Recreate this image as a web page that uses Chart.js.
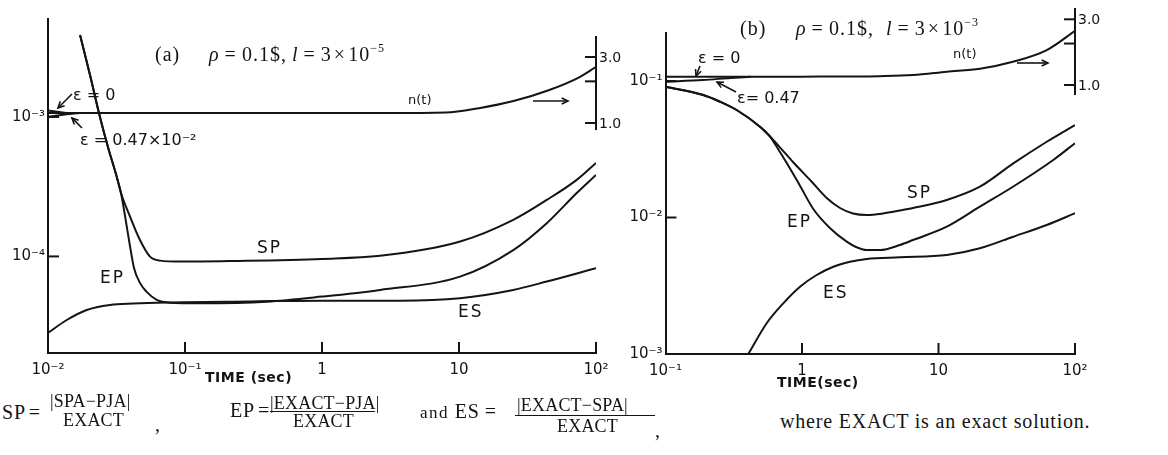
<!DOCTYPE html>
<html>
<head>
<meta charset="utf-8">
<script src="https://cdn.jsdelivr.net/npm/chart.js@4.4.1/dist/chart.umd.min.js"></script>
<style>
  html, body { margin: 0; padding: 0; background: #fff; }
  body { width: 1168px; height: 455px; position: relative; overflow: hidden;
         font-family: "Liberation Serif", "DejaVu Serif", serif; color: #141414; }
  canvas { position: absolute; top: 0; }
  #chartA { left: 0; }
  #chartB { left: 618px; }
  .t { position: absolute; white-space: nowrap; }
  .ttl { font-size: 20px; line-height: 20px; letter-spacing: 1px; }
  .ttl sup { font-size: 12px; vertical-align: 9px; line-height: 0; }
  .eq { margin: 0 5px; }
  .ceq { margin-left: 3px; }
  .mul { margin: 0 2px; }
  .axt { font-family: "DejaVu Sans", sans-serif; font-weight: bold; font-size: 14px; line-height: 14px; letter-spacing: 0.5px; }
  .cap { font-size: 20px; line-height: 20px; letter-spacing: 0.8px; }
  .fr { font-size: 18px; line-height: 18px; letter-spacing: 0.2px; }
  .bar { position: absolute; border-top: 1.5px solid #141414; height: 0; }
</style>
</head>
<body>
<canvas id="chartA" width="628" height="392"></canvas>
<canvas id="chartB" width="550" height="392"></canvas>

<!-- panel titles -->
<div class="t ttl" style="left:155px;top:44px">(a)</div>
<div class="t ttl" style="left:209px;top:44px"><i>ρ</i><span class="eq">=</span>0.1$,</div>
<div class="t ttl" style="left:292px;top:44px"><i>l</i><span class="eq">=</span>3<span class="mul">×</span>10<sup>−5</sup></div>

<div class="t ttl" style="left:740px;top:18px">(b)</div>
<div class="t ttl" style="left:796px;top:18px"><i>ρ</i><span class="eq">=</span>0.1$,</div>
<div class="t ttl" style="left:886px;top:18px"><i>l</i><span class="eq">=</span>3<span class="mul">×</span>10<sup>−3</sup></div>

<!-- axis titles -->
<div class="t axt" style="left:205px;top:370px">TIME (sec)</div>
<div class="t axt" style="left:777px;top:375px">TIME(sec)</div>

<!-- definitions -->
<div class="t cap" style="left:2px;top:402px">SP<span class="ceq">=</span></div>
<div class="t fr"  style="left:50px;top:392px">|SPA−PJA|</div>
<div class="t fr"  style="left:63px;top:411px">EXACT</div>
<div class="t cap" style="left:155px;top:414px">,</div>

<div class="t cap" style="left:230px;top:400px">EP<span class="ceq">=</span></div>
<div class="t fr"  style="left:270px;top:394px">|EXACT−PJA|</div>
<div class="bar"   style="left:270px;top:411px;width:105px"></div>
<div class="t fr"  style="left:293px;top:412px">EXACT</div>

<div class="t cap" style="left:420px;top:401px"><span style="font-size:17px;letter-spacing:1.5px">and</span> ES<span class="eq">=</span></div>
<div class="t fr"  style="left:517px;top:396px">|EXACT−SPA|</div>
<div class="bar"   style="left:515px;top:415px;width:140px"></div>
<div class="t fr"  style="left:557px;top:417px">EXACT</div>
<div class="t cap" style="left:655px;top:420px">,</div>

<div class="t cap" style="left:780px;top:411px">where EXACT is an exact solution.</div>

<script>
// ---------- panel (a): l = 3e-5 ----------
const aTimeTicks = [0.01, 0.1, 1, 10, 100];
const aTimeTickLabels = ['10⁻²', '10⁻¹', '1', '10', '10²'];
const aErrTicks = [1e-3, 1e-4];
const aErrTickLabels = ['10⁻³', '10⁻⁴'];

const aTimeN = [0.01, 0.03, 0.1, 0.3, 1, 3, 8, 14, 25, 44, 76, 100];
const aN     = [1.18, 1.18, 1.18, 1.18, 1.18, 1.18, 1.19, 1.28, 1.44, 1.71, 2.15, 2.55];
const aTimeNeps0 = [0.01, 0.012, 0.0138];
const aNeps0     = [1.23, 1.20, 1.18];
const aTimeNeps1 = [0.01, 0.0125, 0.015, 0.0171];
const aNeps1     = [1.105, 1.14, 1.165, 1.18];

const aTimeSP = [0.01714, 0.02026, 0.02397, 0.02755, 0.03174, 0.0341, 0.0397, 0.0469, 0.0555, 0.0657, 0.0919, 0.225, 1, 2.65, 10.2, 24.9, 43.7, 72.3, 100];
const aSP     = [3.87e-3, 2.0e-3, 9.95e-4, 5.96e-4, 3.73e-4, 2.85e-4, 1.93e-4, 1.31e-4, 9.97e-5, 9.33e-5, 9.18e-5, 9.28e-5, 9.6e-5, 1.01e-4, 1.28e-4, 1.83e-4, 2.54e-4, 3.54e-4, 4.68e-4];

const aTimeEP = [0.01714, 0.02026, 0.02397, 0.02755, 0.03174, 0.0341, 0.0371, 0.0397, 0.04243, 0.0469, 0.0525, 0.0622, 0.0777, 0.1287, 0.395, 1, 2.65, 10.17, 24.9, 43.7, 72.3, 100];
const aEP     = [3.87e-3, 2.0e-3, 9.95e-4, 5.96e-4, 3.73e-4, 2.85e-4, 1.77e-4, 1.18e-4, 8.27e-5, 6.46e-5, 5.57e-5, 4.88e-5, 4.66e-5, 4.62e-5, 4.74e-5, 5.15e-5, 5.75e-5, 7.16e-5, 1.11e-4, 1.73e-4, 2.85e-4, 3.84e-4];

const aTimeES = [0.01, 0.0137, 0.01916, 0.02836, 0.04195, 0.0735, 0.2985, 1, 3.71, 10.17, 24.9, 43.7, 100];
const aES     = [2.83e-5, 3.5e-5, 4.13e-5, 4.49e-5, 4.6e-5, 4.68e-5, 4.76e-5, 4.82e-5, 4.82e-5, 5.02e-5, 5.75e-5, 6.6e-5, 8.23e-5];

// ---------- panel (b): l = 3e-3 ----------
const bTimeTicks = [0.1, 1, 10, 100];
const bTimeTickLabels = ['10⁻¹', '1', '10', '10²'];
const bErrTicks = [1e-1, 1e-2, 1e-3];
const bErrTickLabels = ['10⁻¹', '10⁻²', '10⁻³'];

const bTimeN = [0.1, 0.3, 1, 3.7, 6.5, 11.5, 20.1, 35.1, 62.1, 100];
const bN     = [1.148, 1.148, 1.15, 1.16, 1.18, 1.248, 1.313, 1.475, 1.793, 2.475];
const bTimeNeps1 = [0.1, 0.188, 0.3, 0.42];
const bNeps1     = [1.057, 1.087, 1.125, 1.148];

const bTimeSP = [0.1, 0.189, 0.251, 0.332, 0.492, 0.583, 0.702, 0.859, 1.174, 1.517, 1.899, 2.364, 2.98, 3.92, 5.22, 6.51, 11.5, 20.1, 35.3, 62.1, 100];
const bSP     = [0.0908, 0.0789, 0.0705, 0.0613, 0.0463, 0.0392, 0.032, 0.0255, 0.01835, 0.0139, 0.01174, 0.0107, 0.01043, 0.0107, 0.01125, 0.01174, 0.01343, 0.0168, 0.0249, 0.0359, 0.0476];

const bTimeEP = [0.1, 0.189, 0.251, 0.332, 0.492, 0.583, 0.678, 0.773, 0.951, 1.21, 1.60, 2.126, 2.486, 2.98, 3.73, 5.22, 6.51, 11.5, 20.1, 35.1, 69.3, 100];
const bEP     = [0.0908, 0.0789, 0.0705, 0.0613, 0.0463, 0.0392, 0.031, 0.0251, 0.0176, 0.01154, 0.00838, 0.00665, 0.00608, 0.00578, 0.00578, 0.00629, 0.00684, 0.00856, 0.012, 0.0168, 0.0264, 0.035];

const bTimeES = [0.404, 0.551, 0.729, 0.967, 1.281, 1.696, 2.247, 2.98, 5.22, 11.5, 20.1, 35.3, 62.1, 100];
const bES     = [0.001, 0.00168, 0.00235, 0.00311, 0.00379, 0.00436, 0.00474, 0.00497, 0.00511, 0.00531, 0.00595, 0.00723, 0.00881, 0.01074];

// n(t) side scale
const nTicks = [1, 2, 3];
const nTickLabels = ['1.0', '', '3.0'];

const ink = '#141414';

function pts(xs, ys) { return xs.map((x, i) => ({ x: x, y: ys[i] })); }

function curve(xs, ys, axis, noClip) {
  const ds = {
    data: pts(xs, ys), yAxisID: axis, borderColor: ink, borderWidth: 2,
    pointRadius: 0, fill: false, cubicInterpolationMode: 'monotone'
  };
  if (noClip) ds.clip = false;
  return ds;
}

function labelMap(values, labels) {
  const m = new Map();
  values.forEach((v, i) => m.set(v, labels[i]));
  return m;
}

// axis ticks drawn inward, the short n(t) scale, and the curve labels
function panelMarks(o) {
  return {
    id: 'panelMarks',
    afterDraw(chart) {
      const { ctx, chartArea: ca, scales } = chart;
      const x = scales.x, y = scales.y, yn = scales.yn;
      const seg = (x1, y1, x2, y2) => { ctx.beginPath(); ctx.moveTo(x1, y1); ctx.lineTo(x2, y2); ctx.stroke(); };
      ctx.save();
      ctx.strokeStyle = ink; ctx.fillStyle = ink; ctx.lineWidth = 2;

      o.xTicks.forEach(v => {
        const px = x.getPixelForValue(v);
        if (Math.abs(px - ca.left) > 2) seg(px, ca.bottom, px, ca.bottom - 11);
      });
      o.yTicks.forEach(v => {
        const py = y.getPixelForValue(v);
        if (Math.abs(py - ca.bottom) > 2) seg(ca.left, py, ca.left + 11, py);
      });

      const rx = ca.right;
      seg(rx, yn.getPixelForValue(o.nTop), rx, yn.getPixelForValue(o.nBottom));
      ctx.font = '14px "DejaVu Sans", sans-serif';
      ctx.textAlign = 'left'; ctx.textBaseline = 'middle';
      nTicks.forEach((v, i) => {
        const py = yn.getPixelForValue(v);
        seg(rx - 11, py, rx, py);
        if (nTickLabels[i]) ctx.fillText(nTickLabels[i], rx + 3, py + 1);
      });

      ctx.textBaseline = 'alphabetic';
      o.texts.forEach(a => {
        ctx.font = a.size + 'px "DejaVu Sans", sans-serif';
        ctx.letterSpacing = (a.spacing || 0) + 'px';
        ctx.fillText(a.text, x.getPixelForValue(a.t), y.getPixelForValue(a.v));
      });
      ctx.letterSpacing = '0px';

      ctx.lineWidth = 1.6;
      o.arrows.forEach(a => {
        const x1 = x.getPixelForValue(a.from[0]), y1 = y.getPixelForValue(a.from[1]);
        const x2 = x.getPixelForValue(a.to[0]), y2 = y.getPixelForValue(a.to[1]);
        seg(x1, y1, x2, y2);
        const ang = Math.atan2(y2 - y1, x2 - x1), hl = 7, sp = 0.45;
        ctx.beginPath();
        ctx.moveTo(x2 - hl * Math.cos(ang - sp), y2 - hl * Math.sin(ang - sp));
        ctx.lineTo(x2, y2);
        ctx.lineTo(x2 - hl * Math.cos(ang + sp), y2 - hl * Math.sin(ang + sp));
        ctx.stroke();
      });
      ctx.restore();
    }
  };
}

function makePanel(el, p) {
  const xLabels = labelMap(p.xTicks, p.xLabels);
  const yLabels = labelMap(p.yTicks, p.yLabels);
  const tickFont = { family: '"DejaVu Sans", sans-serif', size: 15 };
  return new Chart(el, {
    type: 'line',
    data: { datasets: p.datasets },
    options: {
      responsive: false, animation: false, devicePixelRatio: 1,
      layout: { padding: p.padding },
      plugins: { legend: { display: false }, tooltip: { enabled: false } },
      scales: {
        x: {
          type: 'logarithmic', position: 'bottom', min: p.xMin, max: p.xMax,
          afterBuildTicks: s => { s.ticks = p.xTicks.map(v => ({ value: v })); },
          afterFit: s => { s.height = p.xAxisHeight; },
          grid: { display: false, drawTicks: false },
          border: { display: true, color: ink, width: 2 },
          ticks: { autoSkip: false, maxRotation: 0, minRotation: 0, padding: 8, color: ink, font: tickFont,
                   callback: v => xLabels.get(v) ?? '' }
        },
        y: {
          type: 'logarithmic', position: 'left', min: p.yMin, max: p.yMax,
          afterBuildTicks: s => { s.ticks = p.yTicks.map(v => ({ value: v })); },
          afterFit: s => { s.width = p.yAxisWidth; },
          grid: { display: false, drawTicks: false },
          border: { display: true, color: ink, width: 2 },
          ticks: { autoSkip: false, padding: 3, color: ink, font: tickFont,
                   callback: v => yLabels.get(v) ?? '' }
        },
        yn: { type: 'logarithmic', display: false, min: p.nMin, max: p.nMax }
      }
    },
    plugins: [panelMarks(p.marks)]
  });
}

makePanel(document.getElementById('chartA'), {
  xMin: 0.01, xMax: 100, yMin: 2.03e-5, yMax: 5.04e-3, nMin: 0.0217, nMax: 5.65,
  xTicks: aTimeTicks, xLabels: aTimeTickLabels, yTicks: aErrTicks, yLabels: aErrTickLabels,
  padding: { left: 0, top: 19, right: 32, bottom: 0 }, xAxisHeight: 39, yAxisWidth: 48,
  datasets: [
    curve(aTimeN, aN, 'yn'),
    curve(aTimeNeps0, aNeps0, 'yn'),
    curve(aTimeNeps1, aNeps1, 'yn'),
    curve(aTimeSP, aSP, 'y'),
    curve(aTimeEP, aEP, 'y'),
    curve(aTimeES, aES, 'y')
  ],
  marks: {
    xTicks: aTimeTicks, yTicks: aErrTicks, nTop: 4.26, nBottom: 0.89,
    texts: [
      { text: 'ε = 0', t: 0.01522, v: 1.324e-3, size: 16 },
      { text: 'ε = 0.47×10⁻²', t: 0.01713, v: 6.30e-4, size: 16 },
      { text: 'n(t)', t: 4.244, v: 1.239e-3, size: 13 },
      { text: 'SP', t: 0.3354, v: 1.058e-4, size: 17, spacing: 2 },
      { text: 'EP', t: 0.02397, v: 6.45e-5, size: 17, spacing: 2 },
      { text: 'ES', t: 9.83, v: 3.68e-5, size: 17, spacing: 2 }
    ],
    arrows: [
      { from: [0.01496, 1.462e-3], to: [0.01183, 1.16e-3] },
      { from: [0.0177, 8.34e-4], to: [0.01496, 9.84e-4] },
      { from: [34.7, 1.302e-3], to: [62.5, 1.302e-3] }
    ]
  }
});

makePanel(document.getElementById('chartB'), {
  xMin: 0.1, xMax: 100, yMin: 1e-3, yMax: 0.2236, nMin: 0.01113, nMax: 2.374,
  xTicks: bTimeTicks, xLabels: bTimeTickLabels, yTicks: bErrTicks, yLabels: bErrTickLabels,
  padding: { left: 0, top: 33.3, right: 93, bottom: 0 }, xAxisHeight: 38, yAxisWidth: 47.5,
  datasets: [
    curve(bTimeN, bN, 'yn', true),
    curve(bTimeNeps1, bNeps1, 'yn', true),
    curve(bTimeSP, bSP, 'y'),
    curve(bTimeEP, bEP, 'y'),
    curve(bTimeES, bES, 'y')
  ],
  marks: {
    xTicks: bTimeTicks, yTicks: bErrTicks, nTop: 3.63, nBottom: 0.846,
    texts: [
      { text: 'ε = 0', t: 0.173, v: 0.1355, size: 16 },
      { text: 'ε= 0.47', t: 0.3342, v: 0.069, size: 16 },
      { text: 'n(t)', t: 12.77, v: 0.1474, size: 13 },
      { text: 'SP', t: 5.875, v: 0.0139, size: 17, spacing: 2 },
      { text: 'EP', t: 0.776, v: 0.00852, size: 17, spacing: 2 },
      { text: 'ES', t: 1.426, v: 0.00257, size: 17, spacing: 2 }
    ],
    arrows: [
      { from: [0.1789, 0.1288], to: [0.1673, 0.1088] },
      { from: [0.3284, 0.0831], to: [0.2385, 0.0983] },
      { from: [37.6, 0.1355], to: [63.4, 0.1355] }
    ]
  }
});
</script>
</body>
</html>
